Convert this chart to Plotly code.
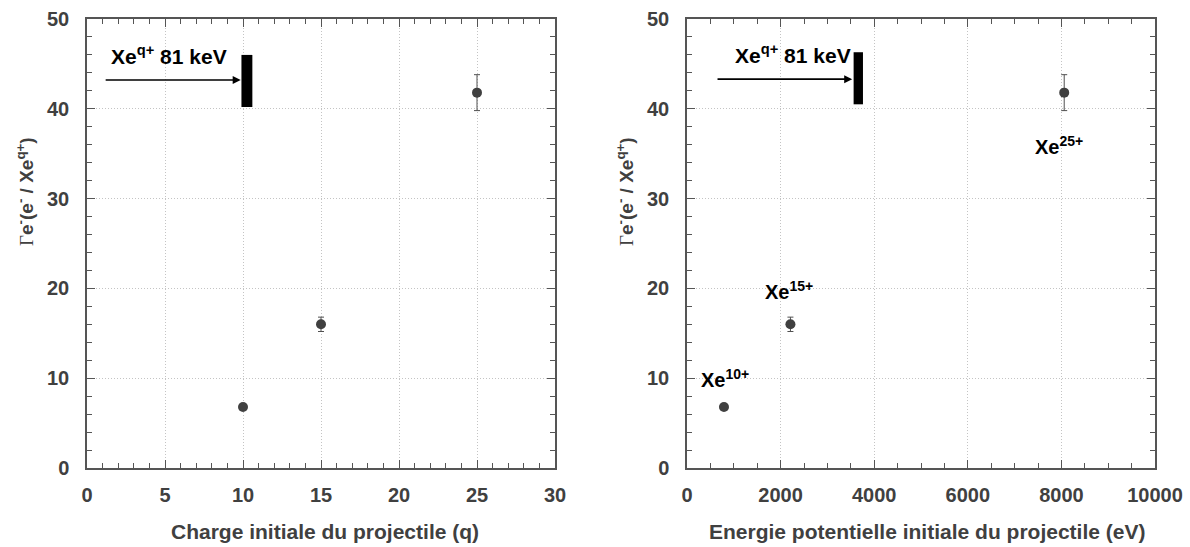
import plotly.graph_objects as go

# ---- data ----
charge_q = [10, 15, 25]
energy_ev = [790, 2210, 8060]
gamma = [6.8, 16.0, 41.8]
gamma_err = [0.3, 0.8, 2.0]
ion_labels = ["Xe<sup>10+</sup>", "Xe<sup>15+</sup>", "Xe<sup>25+</sup>"]

# 81 keV reference bar (x range, y range) per panel
bar_left_x = [9.9, 10.6]
bar_right_x = [3560, 3760]
bar_y_left = [40.2, 46.0]
bar_y_right = [40.5, 46.3]
arrow_left_x = [1.1, 9.85]
arrow_right_x = [620, 3530]
arrow_y = [43.2, 43.3]
beam_label = "Xe<sup>q+</sup> 81 keV"

x1_range, x1_step, x1_minor = [0, 30], 5, 1
x2_range, x2_step, x2_minor = [0, 10000], 2000, 500
y_range, y_step, y_minor = [0, 50], 10, 2

GREY = "#404040"
FONT = "Liberation Sans, Arial, sans-serif"
W, H = 1190, 547

fig = go.Figure()

marker = dict(color=GREY, size=10)
err = lambda: dict(type="data", array=gamma_err, color="#505050", thickness=1, width=3)

fig.add_trace(go.Scatter(x=charge_q, y=gamma, mode="markers", marker=marker,
                         error_y=err(), xaxis="x", yaxis="y", showlegend=False))
fig.add_trace(go.Scatter(x=energy_ev, y=gamma, mode="markers", marker=marker,
                         error_y=err(), xaxis="x2", yaxis="y2", showlegend=False))

# reference bars
fig.add_shape(type="rect", xref="x", yref="y", x0=bar_left_x[0], x1=bar_left_x[1],
              y0=bar_y_left[0], y1=bar_y_left[1], fillcolor="black", line=dict(width=0))
fig.add_shape(type="rect", xref="x2", yref="y2", x0=bar_right_x[0], x1=bar_right_x[1],
              y0=bar_y_right[0], y1=bar_y_right[1], fillcolor="black", line=dict(width=0))

tickfont = dict(family=FONT, size=20, color=GREY, weight="bold")

def common(rng, step, minor, anchor, standoff):
    return dict(range=rng, tickmode="linear", tick0=0, dtick=step, ticks="inside", ticklen=8,
                tickcolor="#555555", tickwidth=1.2,
                minor=dict(dtick=minor, tick0=0, ticks="inside", ticklen=5, tickcolor="#555555",
                           tickwidth=1, showgrid=False),
                showline=True, linecolor="#555555", linewidth=1.5, mirror="allticks",
                showgrid=True, gridcolor="#c4c4c4", griddash="1px,2px", gridwidth=1,
                zeroline=False, tickfont=tickfont, ticklabelstandoff=standoff, anchor=anchor,
                fixedrange=True, automargin=False, tickformat="d")

YDOM = [(H - 468) / H, (H - 19) / H]

def xaxis(px0, px1, rng, step, minor, anchor):
    d = common(rng, step, minor, anchor, 8)
    d["domain"] = [px0 / W, px1 / W]
    return d

def yaxis(anchor):
    d = common(y_range, y_step, y_minor, anchor, 12)
    d["domain"] = YDOM
    return d

annotations = []
# arrows and beam labels
annotations.append(dict(xref="x", yref="y", axref="x", ayref="y", x=arrow_left_x[1], y=arrow_y[0],
                        ax=arrow_left_x[0], ay=arrow_y[0], text="", showarrow=True,
                        arrowhead=2, arrowsize=1, arrowwidth=1.6, arrowcolor="black"))
annotations.append(dict(xref="x2", yref="y2", axref="x2", ayref="y2", x=arrow_right_x[1], y=arrow_y[1],
                        ax=arrow_right_x[0], ay=arrow_y[1], text="", showarrow=True,
                        arrowhead=2, arrowsize=1, arrowwidth=1.6, arrowcolor="black"))
annotations.append(dict(xref="x", yref="y", x=(arrow_left_x[0] + arrow_left_x[1]) / 2 - 0.2, y=46.0,
                        text=beam_label, showarrow=False,
                        font=dict(family=FONT, size=21, color="black", weight="bold")))
annotations.append(dict(xref="x2", yref="y2", x=(arrow_right_x[0] + arrow_right_x[1]) / 2 + 200, y=46.1,
                        text=beam_label, showarrow=False,
                        font=dict(family=FONT, size=21, color="black", weight="bold")))

# ion labels in right panel
label_offsets = [(30, 10.0), (-20, 19.8), (-120, 35.9)]
for (dx, ly), xv, lab in zip(label_offsets, energy_ev, ion_labels):
    annotations.append(dict(xref="x2", yref="y2", x=xv + dx, y=ly, text=lab,
                            showarrow=False,
                            font=dict(family=FONT, size=20, color="black", weight="bold")))

# axis titles
title_font = dict(family=FONT, size=21, color=GREY, weight="bold")
annotations.append(dict(xref="paper", yref="paper", x=(162 + 488) / 2 / W, y=(H - 531) / H,
                        text="Charge initiale du projectile (q)", showarrow=False,
                        font=title_font, xanchor="center", yanchor="middle"))
annotations.append(dict(xref="paper", yref="paper", x=(705 + 1148) / 2 / W, y=(H - 531) / H,
                        text="Energie potentielle initiale du projectile (eV)", showarrow=False,
                        font=title_font, xanchor="center", yanchor="middle"))
ytitle = ("<span style='font-family:Liberation Serif, serif;font-weight:normal'>Γ</span>"
          "e<sup>-</sup>(e<sup>-</sup> / Xe<sup>q+</sup>)")
for xc in [25 / W, 625 / W]:
    annotations.append(dict(xref="paper", yref="paper", x=xc, y=(H - 192) / H, text=ytitle,
                            textangle=-90, showarrow=False,
                            font=dict(family=FONT, size=19, color=GREY, weight="bold"),
                            xanchor="center", yanchor="middle"))

fig.update_layout(
    width=W, height=H,
    margin=dict(l=0, r=0, t=0, b=0, autoexpand=False),
    paper_bgcolor="white", plot_bgcolor="white",
    xaxis=xaxis(87, 555, x1_range, x1_step, x1_minor, "y"),
    yaxis=yaxis("x"),
    xaxis2=xaxis(687, 1155, x2_range, x2_step, x2_minor, "y2"),
    yaxis2=yaxis("x2"),
    annotations=annotations,
    showlegend=False,
)

fig.write_html("out.html", config={"displayModeBar": False},
               post_script="document.body.style.margin='0';document.body.style.padding='0';")
